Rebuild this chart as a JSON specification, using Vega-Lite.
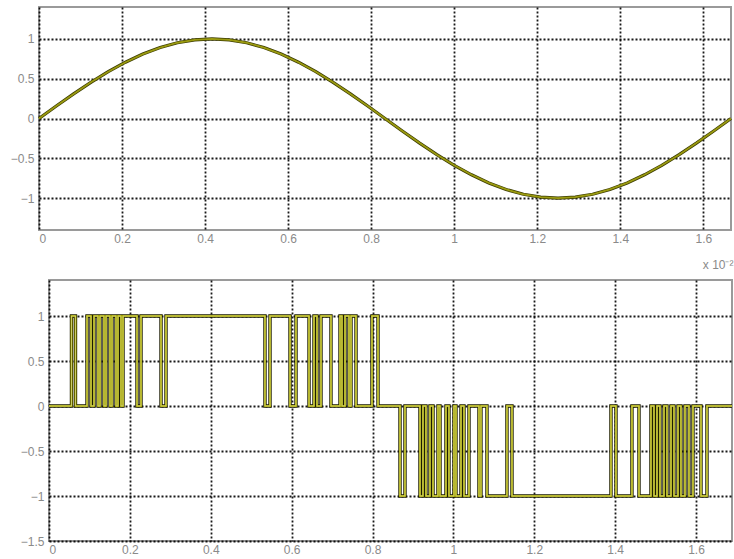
{
  "$schema": "https://vega.github.io/schema/vega-lite/v6.json",
  "background": "white",
  "padding": {"left": 9, "top": 6, "right": 0, "bottom": 0},
  "bounds": "flush",
  "spacing": 50,
  "config": {
    "view": {"stroke": "#9a9a9a", "strokeWidth": 2},
    "axis": {
      "labelFont": "Liberation Sans",
      "labelFontSize": 12,
      "labelColor": "#8a8a8a",
      "domain": false,
      "ticks": false,
      "grid": true,
      "gridColor": "#000000",
      "gridDash": [2, 2],
      "gridWidth": 1.8,
      "gridOpacity": 0.9,
      "title": null,
      "labelExpr": "format(datum.value, '~g')"
    }
  },
  "vconcat": [
    {
      "width": 692,
      "height": 223,
      "data": {"values": [
        {"t": 0, "v": 0}, {"t": 0.0417, "v": 0.1564}, {"t": 0.0833, "v": 0.309}, {"t": 0.125, "v": 0.454},
        {"t": 0.1667, "v": 0.5878}, {"t": 0.2083, "v": 0.7071}, {"t": 0.25, "v": 0.809}, {"t": 0.2917, "v": 0.891},
        {"t": 0.3333, "v": 0.9511}, {"t": 0.375, "v": 0.9877}, {"t": 0.4167, "v": 1}, {"t": 0.4583, "v": 0.9877},
        {"t": 0.5, "v": 0.9511}, {"t": 0.5417, "v": 0.891}, {"t": 0.5833, "v": 0.809}, {"t": 0.625, "v": 0.7071},
        {"t": 0.6667, "v": 0.5878}, {"t": 0.7083, "v": 0.454}, {"t": 0.75, "v": 0.309}, {"t": 0.7917, "v": 0.1564},
        {"t": 0.8333, "v": 0}, {"t": 0.875, "v": -0.1564}, {"t": 0.9167, "v": -0.309}, {"t": 0.9583, "v": -0.454},
        {"t": 1.0, "v": -0.5878}, {"t": 1.0417, "v": -0.7071}, {"t": 1.0833, "v": -0.809}, {"t": 1.125, "v": -0.891},
        {"t": 1.1667, "v": -0.9511}, {"t": 1.2083, "v": -0.9877}, {"t": 1.25, "v": -1}, {"t": 1.2917, "v": -0.9877},
        {"t": 1.3333, "v": -0.9511}, {"t": 1.375, "v": -0.891}, {"t": 1.4167, "v": -0.809}, {"t": 1.4583, "v": -0.7071},
        {"t": 1.5, "v": -0.5878}, {"t": 1.5417, "v": -0.454}, {"t": 1.5833, "v": -0.309}, {"t": 1.625, "v": -0.1564},
        {"t": 1.6667, "v": 0}
      ]},
      "encoding": {
        "x": {"field": "t", "type": "quantitative",
          "scale": {"domain": [0, 1.6667], "nice": false, "zero": false},
          "axis": {"values": [0, 0.2, 0.4, 0.6, 0.8, 1, 1.2, 1.4, 1.6], "labelPadding": 3,
            "title": "x 10⁻²", "titleX": 694, "titleY": 34, "titleAlign": "right", "titleBaseline": "middle",
            "titleColor": "#8a8a8a", "titleFontWeight": "normal", "titleFontSize": 12, "titleFont": "Liberation Sans"}},
        "y": {"field": "v", "type": "quantitative",
          "scale": {"domain": [-1.4, 1.4], "nice": false, "zero": false},
          "axis": {"values": [-1, -0.5, 0, 0.5, 1], "labelPadding": 5}}
      },
      "layer": [
        {"mark": {"type": "line", "color": "#3a3a00", "strokeWidth": 3.2}},
        {"mark": {"type": "line", "color": "#9a9a10", "strokeWidth": 1.8}}
      ]
    },
    {
      "hconcat": [
        {
          "width": 1,
          "height": 261,
          "view": {"stroke": null},
          "data": {"values": []},
          "mark": {"type": "point", "opacity": 0},
          "encoding": {}
        },
        {
          "width": 683,
          "height": 261,
          "data": {"values": [
            {"t": 0, "v": 0}, {"t": 0.0556, "v": 1}, {"t": 0.0655, "v": 0}, {"t": 0.094, "v": 1}, {"t": 0.1039, "v": 0},
            {"t": 0.1113, "v": 1}, {"t": 0.1212, "v": 0}, {"t": 0.1261, "v": 1}, {"t": 0.136, "v": 0}, {"t": 0.141, "v": 1},
            {"t": 0.1508, "v": 0}, {"t": 0.1558, "v": 1}, {"t": 0.1657, "v": 0}, {"t": 0.1706, "v": 1}, {"t": 0.178, "v": 0},
            {"t": 0.183, "v": 1}, {"t": 0.2176, "v": 0}, {"t": 0.2275, "v": 1}, {"t": 0.277, "v": 0}, {"t": 0.2893, "v": 1},
            {"t": 0.5341, "v": 0}, {"t": 0.5465, "v": 1}, {"t": 0.596, "v": 0}, {"t": 0.6108, "v": 1}, {"t": 0.643, "v": 0},
            {"t": 0.6553, "v": 1}, {"t": 0.6627, "v": 0}, {"t": 0.6726, "v": 1}, {"t": 0.6973, "v": 0}, {"t": 0.7196, "v": 1},
            {"t": 0.7245, "v": 0}, {"t": 0.732, "v": 1}, {"t": 0.7418, "v": 0}, {"t": 0.7468, "v": 1}, {"t": 0.7592, "v": 0},
            {"t": 0.7987, "v": 1}, {"t": 0.8136, "v": 0}, {"t": 0.868, "v": -1}, {"t": 0.8803, "v": 0}, {"t": 0.9174, "v": -1},
            {"t": 0.9248, "v": 0}, {"t": 0.9322, "v": -1}, {"t": 0.9421, "v": 0}, {"t": 0.9496, "v": -1}, {"t": 0.9619, "v": 0},
            {"t": 0.9669, "v": -1}, {"t": 0.9817, "v": 0}, {"t": 0.9891, "v": -1}, {"t": 1.0015, "v": 0}, {"t": 1.0064, "v": -1},
            {"t": 1.0188, "v": 0}, {"t": 1.0262, "v": -1}, {"t": 1.0386, "v": 0}, {"t": 1.0633, "v": -1}, {"t": 1.0682, "v": 0},
            {"t": 1.0831, "v": -1}, {"t": 1.1325, "v": 0}, {"t": 1.1449, "v": -1}, {"t": 1.3897, "v": 0}, {"t": 1.4021, "v": -1},
            {"t": 1.4416, "v": 0}, {"t": 1.459, "v": -1}, {"t": 1.4886, "v": 0}, {"t": 1.496, "v": -1}, {"t": 1.5035, "v": 0},
            {"t": 1.5109, "v": -1}, {"t": 1.5208, "v": 0}, {"t": 1.5282, "v": -1}, {"t": 1.5381, "v": 0}, {"t": 1.5455, "v": -1},
            {"t": 1.5554, "v": 0}, {"t": 1.5628, "v": -1}, {"t": 1.5727, "v": 0}, {"t": 1.5826, "v": -1}, {"t": 1.5925, "v": 0},
            {"t": 1.6123, "v": -1}, {"t": 1.6271, "v": 0}, {"t": 1.689, "v": 0}
          ]},
          "encoding": {
            "x": {"field": "t", "type": "quantitative",
              "scale": {"domain": [0, 1.689], "nice": false, "zero": false},
              "axis": {"values": [0, 0.2, 0.4, 0.6, 0.8, 1, 1.2, 1.4, 1.6], "labelPadding": 3}},
            "y": {"field": "v", "type": "quantitative",
              "scale": {"domain": [-1.5, 1.4], "nice": false, "zero": false},
              "axis": {"values": [-1.5, -1, -0.5, 0, 0.5, 1], "labelPadding": 5}}
          },
          "layer": [
            {"mark": {"type": "line", "interpolate": "step-after", "color": "#1a1a00", "strokeWidth": 3.4}},
            {"mark": {"type": "line", "interpolate": "step-after", "color": "#a3a300", "strokeWidth": 2}},
            {"mark": {"type": "line", "interpolate": "step-after", "color": "#e8e8a8", "strokeWidth": 0.6}}
          ]
        }
      ],
      "bounds": "flush",
      "spacing": 9
    }
  ]
}
